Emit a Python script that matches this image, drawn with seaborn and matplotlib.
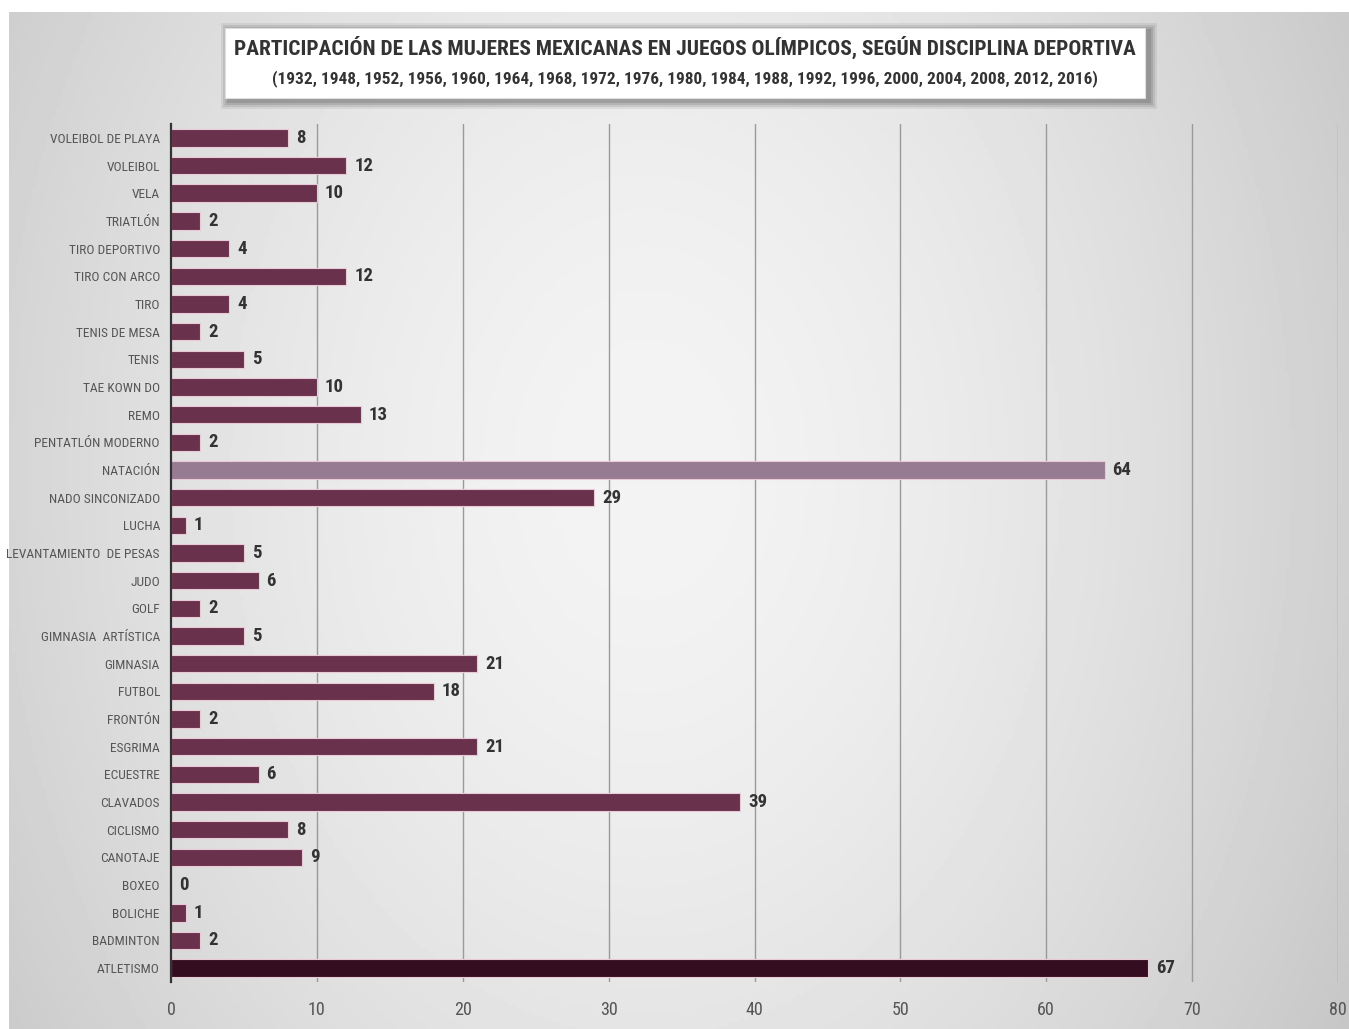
import numpy as np
import pandas as pd
import matplotlib
matplotlib.use("Agg")
import matplotlib.pyplot as plt
import seaborn as sns
from matplotlib.patches import Rectangle

categories = ["VOLEIBOL DE PLAYA", "VOLEIBOL", "VELA", "TRIATLÓN", "TIRO DEPORTIVO",
              "TIRO CON ARCO", "TIRO", "TENIS DE MESA", "TENIS", "TAE KOWN DO", "REMO",
              "PENTATLÓN MODERNO", "NATACIÓN", "NADO SINCONIZADO", "LUCHA",
              "LEVANTAMIENTO  DE PESAS", "JUDO", "GOLF", "GIMNASIA  ARTÍSTICA", "GIMNASIA",
              "FUTBOL", "FRONTÓN", "ESGRIMA", "ECUESTRE", "CLAVADOS", "CICLISMO",
              "CANOTAJE", "BOXEO", "BOLICHE", "BADMINTON", "ATLETISMO"]
values = [8, 12, 10, 2, 4, 12, 4, 2, 5, 10, 13, 2, 64, 29, 1, 5, 6, 2, 5, 21,
          18, 2, 21, 6, 39, 8, 9, 0, 1, 2, 67]
x_ticks = [0, 10, 20, 30, 40, 50, 60, 70, 80]
title_line1 = "PARTICIPACIÓN DE LAS MUJERES MEXICANAS EN JUEGOS OLÍMPICOS, SEGÚN DISCIPLINA DEPORTIVA"
title_line2 = "(1932, 1948, 1952, 1956, 1960, 1964, 1968, 1972, 1976, 1980, 1984, 1988, 1992, 1996, 2000, 2004, 2008, 2012, 2016)"

sns.set_theme(style="white")
FONT = ["Liberation Sans Narrow", "Roboto Condensed", "DejaVu Sans"]
plt.rcParams["font.family"] = FONT

W, H = 1349, 1029
fig = plt.figure(figsize=(W / 100, H / 100), dpi=100)
fig.patch.set_facecolor("white")

# gradient background panel
bg = fig.add_axes([9 / W, 0, 1 - 9 / W, (H - 12) / H], zorder=-5)
gx = np.linspace(-1, 1, 400)
gy = np.linspace(-1, 1, 300)
X, Y = np.meshgrid(gx, gy)
r = np.sqrt(((X + 0.05) / 1.0) ** 2 + ((Y + 0.1) / 1.8) ** 2)
val = 0.955 - 0.13 * np.clip(r, 0, 1.3) ** 1.6
bg.imshow(val, cmap="gray", vmin=0, vmax=1, aspect="auto", extent=[0, 1, 0, 1])
bg.axis("off")

# title box with soft shadow
x0, y0, x1, y1 = 225, 28, 1145, 98
for k, a in [(8, 0.10), (6, 0.14), (4, 0.18), (2, 0.22)]:
    fig.patches.append(Rectangle(((x0 - k + 4) / W, 1 - (y1 + k + 3) / H),
                                 (x1 - x0 + 2 * k) / W, (y1 - y0 + 2 * k) / H,
                                 transform=fig.transFigure, facecolor="#555555", alpha=a,
                                 edgecolor="none", zorder=1))
fig.patches.append(Rectangle((x0 / W, 1 - y1 / H), (x1 - x0) / W, (y1 - y0) / H,
                             transform=fig.transFigure, facecolor="white",
                             edgecolor="#e0e0e0", lw=0.8, zorder=2))
fig.text((x0 + x1) / 2 / W, 1 - 47 / H, title_line1, ha="center", va="center",
         fontsize=15.4, fontweight="bold", color="#333333", zorder=3)
fig.text((x0 + x1) / 2 / W, 1 - 79 / H, title_line2, ha="center", va="center",
         fontsize=12.4, fontweight="bold", color="#333333", zorder=3)

ax = fig.add_axes([171 / W, 1 - 982 / H, (1338 - 171) / W, (982 - 124) / H])
ax.set_facecolor("none")

df = pd.DataFrame({"cat": categories, "val": values})
colors = []
for c in categories:
    if c == "NATACIÓN":
        colors.append("#9a7796")
    elif c == "ATLETISMO":
        colors.append("#3a0820")
    else:
        colors.append("#74274c")

sns.barplot(data=df, y="cat", x="val", hue="cat", palette=colors, legend=False,
            orient="h", width=0.63, ax=ax, edgecolor="#e9c9d6", linewidth=0.8, zorder=3)

for i, v in enumerate(values):
    ax.text(v + 0.55, i, str(v), va="center", ha="left", fontsize=13.5,
            fontweight="bold", color="#333333", zorder=4)

ax.set_xlim(0, 80)
ax.set_ylim(len(categories) - 0.5, -0.5)
ax.set_xticks(x_ticks)
ax.set_xticklabels([str(t) for t in x_ticks])
for t in x_ticks[1:]:
    ax.axvline(t, color="#9a9a9a", lw=1.0, zorder=1)
ax.set_xlabel("")
ax.set_ylabel("")
for s in ["top", "right", "bottom"]:
    ax.spines[s].set_visible(False)
ax.spines["left"].set_color("#333333")
ax.spines["left"].set_linewidth(1.6)
ax.spines["left"].set_zorder(5)
ax.tick_params(axis="x", length=0, pad=14, labelsize=13, labelcolor="#555555")
ax.tick_params(axis="y", length=0, pad=8, labelsize=9.6, labelcolor="#555555")
ax.grid(False)

fig.savefig("out.png", dpi=100, facecolor=fig.get_facecolor())
